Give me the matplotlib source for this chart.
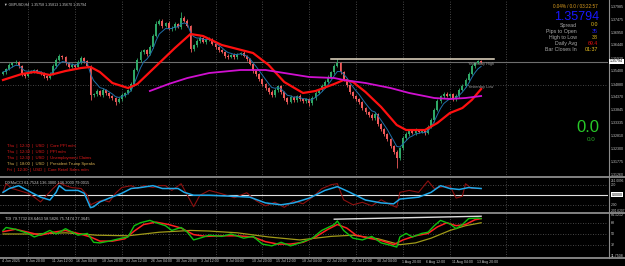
import numpy as np
import pandas as pd
import matplotlib
matplotlib.use("Agg")
import matplotlib.pyplot as plt
import matplotlib.transforms as mtransforms

plt.rcParams['font.family'] = ['Liberation Sans', 'DejaVu Sans']

# GBPUSD H4 candles (one entry per two bars)
first_open = 1.3530
closes = [1.3538, 1.3550, 1.3566, 1.3574, 1.3578, 1.3562, 1.3530, 1.3522, 1.3538, 1.3542,
          1.3546, 1.3538, 1.3534, 1.3522, 1.3514, 1.3530, 1.3562, 1.3586, 1.3602, 1.3598,
          1.3574, 1.3558, 1.3566, 1.3558, 1.3578, 1.3594, 1.3582, 1.3562, 1.3446, 1.3450,
          1.3462, 1.3446, 1.3466, 1.3454, 1.3442, 1.3434, 1.3418, 1.3430, 1.3446, 1.3454,
          1.3466, 1.3490, 1.3546, 1.3586, 1.3618, 1.3626, 1.3610, 1.3638, 1.3682, 1.3730,
          1.3742, 1.3722, 1.3734, 1.3710, 1.3714, 1.3730, 1.3718, 1.3754, 1.3742, 1.3722,
          1.3630, 1.3646, 1.3662, 1.3674, 1.3658, 1.3666, 1.3670, 1.3650, 1.3638, 1.3626,
          1.3618, 1.3602, 1.3598, 1.3606, 1.3598, 1.3610, 1.3614, 1.3602, 1.3590, 1.3570,
          1.3542, 1.3530, 1.3510, 1.3490, 1.3474, 1.3458, 1.3446, 1.3466, 1.3482, 1.3458,
          1.3434, 1.3418, 1.3438, 1.3426, 1.3442, 1.3430, 1.3422, 1.3430, 1.3414, 1.3434,
          1.3454, 1.3466, 1.3482, 1.3498, 1.3518, 1.3538, 1.3562, 1.3574, 1.3538, 1.3510,
          1.3486, 1.3458, 1.3442, 1.3430, 1.3418, 1.3394, 1.3378, 1.3366, 1.3354, 1.3370,
          1.3330, 1.3310, 1.3290, 1.3270, 1.3242, 1.3218, 1.3194, 1.3234, 1.3274, 1.3290,
          1.3302, 1.3294, 1.3306, 1.3298, 1.3302, 1.3294, 1.3318, 1.3346, 1.3386, 1.3422,
          1.3442, 1.3450, 1.3442, 1.3450, 1.3430, 1.3442, 1.3466, 1.3482, 1.3506, 1.3530,
          1.3562, 1.3574, 1.3582, 1.35794]
# wick length beyond the body, in pips
wick_up = [6, 5, 8, 6, 9, 5, 4, 6, 7, 5, 6, 4, 5, 6, 4, 7, 8, 9, 10, 6,
           5, 6, 7, 5, 8, 9, 6, 5, 4, 6, 7, 5, 8, 6, 5, 4, 6, 7, 8, 6,
           5, 9, 8, 10, 7, 6, 5, 8, 9, 12, 8, 7, 6, 9, 8, 7, 6, 24, 8, 7,
           5, 6, 7, 8, 6, 5, 7, 6, 5, 4, 6, 5, 7, 6, 8, 5, 6, 7, 5, 4,
           5, 6, 4, 5, 6, 4, 7, 8, 6, 5, 4, 6, 7, 5, 6, 8, 5, 6, 4, 7,
           8, 6, 7, 8, 9, 6, 8, 16, 5, 4, 5, 6, 4, 5, 6, 4, 5, 6, 7, 8,
           5, 4, 6, 5, 4, 6, 8, 5, 9, 7, 6, 8, 7, 6, 5, 6, 9, 8, 10, 7,
           6, 8, 7, 6, 5, 8, 9, 7, 8, 10, 9, 6, 5, 4]
wick_dn = [5, 6, 4, 7, 5, 6, 8, 6, 5, 4, 6, 5, 7, 6, 8, 5, 4, 6, 5, 7,
           6, 5, 4, 6, 5, 7, 6, 5, 20, 6, 7, 5, 8, 6, 7, 6, 12, 5, 6, 7,
           5, 4, 6, 5, 7, 6, 8, 5, 4, 6, 5, 7, 6, 5, 8, 6, 5, 7, 6, 5,
           12, 8, 6, 7, 5, 6, 4, 5, 6, 7, 5, 8, 6, 5, 7, 6, 5, 4, 6, 5,
           7, 8, 6, 7, 8, 9, 7, 6, 8, 7, 8, 10, 6, 7, 8, 6, 7, 8, 10, 7,
           6, 5, 4, 6, 5, 4, 6, 5, 7, 8, 6, 7, 8, 6, 7, 8, 9, 7, 8, 6,
           9, 8, 7, 8, 9, 10, 40, 8, 6, 7, 6, 5, 7, 6, 5, 6, 5, 4, 6, 5,
           7, 6, 5, 6, 8, 7, 6, 5, 4, 6, 5, 6, 5, 7]

# red and magenta moving averages (bar, price)
red_ma_bar = [0, 3, 6, 10, 15, 20, 25, 28, 31, 35, 40, 43, 47, 51, 55, 60, 64, 70, 75, 80,
              85, 90, 96, 100, 106, 109, 112, 116, 121, 126, 129, 135, 139, 143, 147, 150, 153]
red_ma = [1.3506, 1.3518, 1.3530, 1.3538, 1.3526, 1.3542, 1.3554, 1.3558, 1.3538, 1.3494,
          1.3474, 1.3490, 1.3538, 1.3586, 1.3634, 1.3690, 1.3682, 1.3646, 1.3630, 1.3614,
          1.3566, 1.3498, 1.3454, 1.3462, 1.3490, 1.3506, 1.3498, 1.3458, 1.3398, 1.3326,
          1.3306, 1.3306, 1.3334, 1.3374, 1.3394, 1.3426, 1.3470]
mag_ma_bar = [47, 53, 59, 66, 76, 84, 92, 98, 106, 109, 116, 124, 130, 138, 143, 148, 153]
mag_ma = [1.3462, 1.3490, 1.3514, 1.3534, 1.3546, 1.3546, 1.3530, 1.3518, 1.3514, 1.3506,
          1.3494, 1.3474, 1.3454, 1.3434, 1.3430, 1.3434, 1.3442]

res_level = 1.3590
res_bars = [105, 157]
bid = 1.35794

price_ticks = [1.37985, 1.37475, 1.36950, 1.36440, 1.35920, 1.35400, 1.34880,
               1.34370, 1.33845, 1.33335, 1.32810, 1.32300, 1.31775, 1.31260]
grid_bars = [8, 23, 38, 53, 68, 83, 98, 113, 128, 143, 161]

# CCI window
cci_slow_bar = [0, 2, 5, 9, 12, 15, 17, 18, 20, 24, 26, 28, 29, 31, 34, 38, 41, 44, 48, 51,
                56, 58, 61, 66, 73, 79, 84, 89, 93, 98, 103, 107, 111, 116, 121, 125, 127,
                133, 137, 140, 143, 146, 149, 153]
cci_slow = [48, 124, 181, 48, -48, -105, 48, 181, 86, 86, 29, -257, -238, -143, -67, 29, 124,
            143, 181, 124, 124, 48, -10, -10, -29, -48, -162, -200, -162, -67, 86, 162, 48,
            -105, -162, -181, -86, -48, 48, 181, 124, 105, 143, 124]
cci_fast_bar = [0, 1, 3, 5, 8, 10, 12, 14, 16, 18, 20, 22, 25, 27, 28, 30, 32, 34, 36, 38,
                41, 43, 45, 48, 50, 52, 54, 57, 59, 61, 63, 66, 70, 74, 78, 81, 84, 87, 90,
                93, 96, 99, 102, 105, 107, 109, 112, 115, 118, 121, 124, 126, 127, 130, 133,
                136, 138, 141, 143, 145, 147, 148, 150, 153]
cci_fast = [48, 219, 124, 86, 29, -48, -143, -10, 124, 238, 181, 143, 124, -10, -200, -143,
            -105, -143, 29, 143, 181, 124, 181, 143, 181, 181, 86, 219, -10, -238, -10, 86,
            20, -60, 40, -120, -220, -150, -250, -120, -180, -50, 120, 200, 220, -100, -200,
            -150, -220, -100, -200, -250, 48, 86, 48, 276, 124, 162, 181, -67, -29, 219, 124,
            124]
cci_levels = [200, -200]

# TDI window
rsi_bar = [0, 1, 4, 8, 10, 13, 15, 17, 20, 24, 27, 29, 31, 34, 38, 40, 42, 44, 47, 49,
           52, 54, 57, 59, 61, 63, 66, 70, 73, 77, 80, 83, 86, 89, 92, 95, 99, 102, 106,
           107, 109, 112, 115, 118, 121, 124, 126, 127, 129, 131, 134, 136, 138, 140, 143,
           145, 147, 149, 152, 153]
rsi_line = [56, 61, 58, 51, 45, 51, 56, 50, 59, 48, 51, 36, 35, 38, 43, 45, 64, 69, 73, 69,
            64, 56, 61, 53, 40, 43, 48, 46, 50, 43, 46, 33, 30, 36, 30, 35, 43, 56, 66, 72,
            56, 43, 40, 46, 35, 31, 28, 45, 51, 45, 51, 53, 64, 73, 67, 59, 66, 76, 77, 76]
signal_bar = [0, 4, 8, 12, 16, 20, 24, 28, 31, 35, 39, 42, 45, 49, 53, 57, 61, 65, 70, 75,
              80, 84, 88, 92, 96, 100, 104, 107, 110, 113, 117, 121, 125, 128, 132, 136,
              139, 142, 145, 148, 151, 153]
signal_line = [54, 58, 53, 48, 53, 56, 51, 45, 38, 38, 42, 55, 66, 70, 66, 60, 49, 46, 47,
               47, 45, 37, 33, 33, 36, 45, 58, 66, 60, 48, 43, 39, 32, 40, 47, 51, 62, 69,
               64, 66, 74, 76]
base_bar = [0, 10, 20, 30, 40, 50, 60, 66, 75, 85, 95, 105, 112, 120, 127, 132, 137, 143,
            148, 153]
base_line = [50, 50, 52, 48, 47, 53, 56, 55, 52, 45, 40, 46, 48, 42, 32, 35, 43, 56, 64, 69]
tdi_levels = [68, 50, 32]
tdi_trend_bar = [106, 153]
tdi_trend = [75, 80]

time_labels = ["4 Jun 2025", "6 Jun 20:00", "11 Jun 12:00", "16 Jun 04:00", "18 Jun 20:00",
               "23 Jun 12:00", "26 Jun 04:00", "30 Jun 20:00", "3 Jul 12:00", "8 Jul 04:00",
               "10 Jul 20:00", "15 Jul 12:00", "18 Jul 04:00", "22 Jul 20:00", "25 Jul 12:00",
               "30 Jul 04:00", "1 Aug 20:00", "6 Aug 12:00", "11 Aug 04:00", "13 Aug 20:00"]

news_lines = ["Thu  |  12:30  |  USD  |  Core PPI m/m",
              "Thu  |  12:30  |  USD  |  PPI m/m",
              "Thu  |  12:30  |  USD  |  Unemployment Claims",
              "Thu  |  18:00  |  USD  |  President Trump Speaks",
              "Fri  |  12:30  |  USD  |  Core Retail Sales m/m"]
news_colors = ["#e01a1a", "#e01a1a", "#e01a1a", "#d8b050", "#e01a1a"]

info_names = ["Spread", "Pips to Open", "High to Low", "Daily Avg", "Bar Closes In"]
info_values = ["0.0", "35", "38", "69.4", "01:37"]
info_colors = ["#e8c020", "#2020ff", "#e8c020", "#e01010", "#e8c020"]

# ---------------------------------------------------------------
W, H = 625, 266
def fx(px):
    return px / W
def fy(py):
    return 1 - py / H

small = 2.6
fig = plt.figure(figsize=(W / 100, H / 100), dpi=100, facecolor="black")
ax = fig.add_axes([0, fy(177), fx(608), 177 / H])
ax_cci = fig.add_axes([0, fy(212), fx(608), 33.5 / H])
ax_tdi = fig.add_axes([0, fy(257), fx(608), 43.5 / H])

xlim = (-0.96, 193.6)
grid_c = "#5c5c5c"
for a in (ax, ax_cci, ax_tdi):
    a.set_facecolor("black")
    a.set_xlim(*xlim)
    for s in a.spines.values():
        s.set_visible(False)
    a.set_xticks([])
    a.set_yticks([])
    for gx in grid_bars:
        a.axvline(gx, color=grid_c, lw=0.6, ls=(0, (1, 2)), zorder=0)

# main price window
n = len(closes)
x = np.arange(n)
c = np.array(closes)
o = np.array([first_open] + closes[:-1])
hi = np.maximum(o, c) + np.array(wick_up) * 0.0001
lo = np.minimum(o, c) - np.array(wick_dn) * 0.0001
up = c >= o
cols = np.where(up, "#2fa866", "#f05a5a")
ax.vlines(x, lo, hi, colors=cols, lw=0.6, zorder=3)
body = np.maximum(np.abs(c - o), 0.00008)
ax.bar(x, body, bottom=np.minimum(o, c), width=0.6, color=cols, zorder=3)

ema_fast = pd.Series(closes).ewm(span=5, adjust=False).mean()
ax.plot(x, ema_fast, color="#1f6fa8", lw=0.7, zorder=4)
ax.plot(red_ma_bar, red_ma, color="#ff1010", lw=1.6, zorder=4)
ax.plot(mag_ma_bar, mag_ma, color="#d010d0", lw=1.3, zorder=4)

ax.set_ylim(1.3118, 1.3826)
ax.axhline(1.34880, color=grid_c, lw=0.6, ls=(0, (1, 2)), zorder=0)
ax.axhline(bid, color="#6e6e6e", lw=0.8, zorder=2)
ax.plot(res_bars, [res_level, res_level], color="#e8dcc6", lw=1.1, zorder=5)

tr = mtransforms.blended_transform_factory(ax.transAxes, ax.transData)
for v in price_ticks:
    ax.text(1.004, v, "%.5f" % v, transform=tr, fontsize=small, color="#c8c8c8",
            va="center", ha="left", clip_on=False)

# CCI window
ax_cci.set_ylim(-343, 323)
ax_cci.plot(cci_fast_bar, cci_fast, color="#8c1010", lw=0.8)
ax_cci.plot(cci_slow_bar, cci_slow, color="#20a8e8", lw=1.1)
ax_cci.axhline(0, color="#e0e0e0", lw=0.8, zorder=1)
for lv in cci_levels:
    ax_cci.axhline(lv, color=grid_c, lw=0.6, ls=(0, (1, 2)), zorder=0)
tr = mtransforms.blended_transform_factory(ax_cci.transAxes, ax_cci.transData)
for v, s in zip([265, 185, -200, -315], ["251.0096", "200", "-200", "-301.6207"]):
    ax_cci.text(1.004, v, s, transform=tr, fontsize=2.3, color="#c8c8c8",
                va="center", ha="left", clip_on=False)
ax_cci.text(1.006, 0, "0.0000", transform=tr, fontsize=small, color="black", va="center",
            ha="left", clip_on=False, bbox=dict(boxstyle="square,pad=0.2", fc="white", ec="none"))
ax_cci.text(0.008, 0.86, "DXMoCCI 61.7524 136.3000 136.3000 79.0015", transform=ax_cci.transAxes,
            fontsize=2.9, color="#c8c8c8", va="center")

# TDI window
ax_tdi.set_ylim(11.2, 84.6)
ax_tdi.plot(base_bar, base_line, color="#a09a18", lw=0.9)
ax_tdi.plot(signal_bar, signal_line, color="#ff2020", lw=1.1)
ax_tdi.plot(rsi_bar, rsi_line, color="#10c010", lw=1.0)
ax_tdi.plot(tdi_trend_bar, tdi_trend, color="#dcdcdc", lw=1.0)
for lv in tdi_levels:
    ax_tdi.axhline(lv, color=grid_c, lw=0.6, ls=(0, (1, 2)), zorder=0)
tr = mtransforms.blended_transform_factory(ax_tdi.transAxes, ax_tdi.transData)
for v, s in zip([82.5, 68, 50, 32, 13], ["84.1212", "68", "50", "32", "11.7508"]):
    ax_tdi.text(1.004, v, s, transform=tr, fontsize=small, color="#c8c8c8",
                va="center", ha="left", clip_on=False)
ax_tdi.text(0.008, 0.87, "TDI 79.7732 68.6463 58.5826 75.7474 77.3645", transform=ax_tdi.transAxes,
            fontsize=2.9, color="#c8c8c8", va="center")

# time axis
for k, s in enumerate(time_labels):
    xp = ax_tdi.transData.transform((8 * k, 0))[0] / (fig.dpi * fig.get_figwidth())
    fig.text(xp - fx(1.5), fy(261.5), s, fontsize=small, color="#c8c8c8", va="center", ha="left")

# panel frames
for py in (177, 212.5, 257.5):
    fig.add_artist(plt.Line2D([0, fx(625)], [fy(py), fy(py)], color="#8c8c8c", lw=1.3))
fig.add_artist(plt.Line2D([fx(608.5), fx(608.5)], [fy(0), fy(257.5)], color="#8c8c8c", lw=0.8))

# texts on the price window
fig.text(fx(4), fy(5), "\u25bc GBPUSD,H4  1.35758 1.35813 1.35670 1.35794", fontsize=small,
         color="#c8c8c8", va="center")
fig.text(fx(610), fy(61.5), "1.35794", fontsize=small, color="black", va="center",
         bbox=dict(boxstyle="square,pad=0.2", fc="white", ec="none"))
fig.text(fx(598), fy(6), "0.04% / 0.0 / 03:22:57", fontsize=3.3, color="#e0a020",
         ha="right", va="center")
fig.text(fx(599), fy(17.5), "1.35794", fontsize=9, color="#1818ff", ha="right", va="center")
for k in range(len(info_names)):
    yy = 25 + 6.2 * k
    fig.text(fx(577), fy(yy), info_names[k], fontsize=3.8, color="#a8a8a8", ha="right", va="center")
    fig.text(fx(598), fy(yy), info_values[k], fontsize=3.8, color=info_colors[k], ha="right", va="center")
for k in range(len(news_lines)):
    fig.text(fx(7), fy(145.7 + 6 * k), news_lines[k], fontsize=3.0, color=news_colors[k], va="center")
fig.text(fx(588), fy(128), "0.0", fontsize=12, color="#28c828", ha="center", va="center")
fig.text(fx(591), fy(139.5), "0.0", fontsize=4.5, color="#28a828", ha="center", va="center")
fig.text(fx(468), fy(63.5), "Yesterday High", fontsize=2.8, color="#9a9a9a", va="center")
fig.text(fx(468), fy(87), "Yesterday Low", fontsize=2.8, color="#9a9a9a", va="center")

fig.savefig("out.png", dpi=100, facecolor="black")
